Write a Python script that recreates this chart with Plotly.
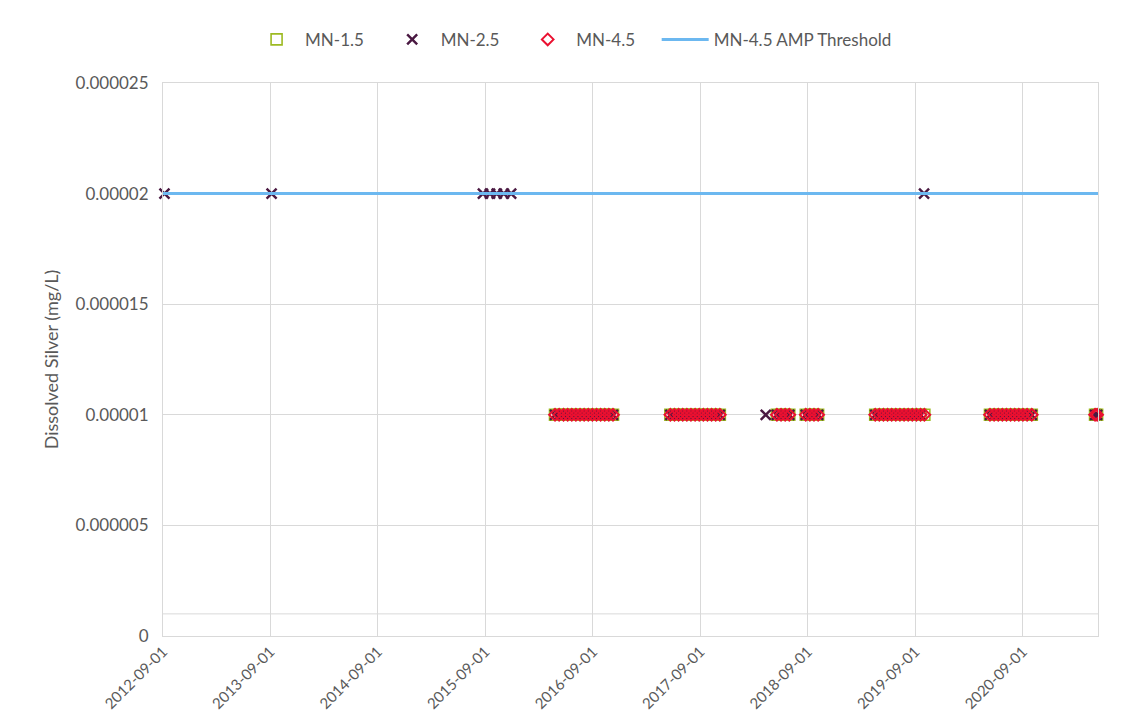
import plotly.graph_objects as go

# ---- data ----
cluster_2016 = ["2016-04-25", "2016-05-09", "2016-05-24", "2016-06-07", "2016-06-21", "2016-07-05",
                "2016-07-19", "2016-08-02", "2016-08-16", "2016-08-30", "2016-09-13", "2016-09-27",
                "2016-10-11", "2016-10-25", "2016-11-08"]
cluster_2017 = ["2017-05-22", "2017-06-05", "2017-06-19", "2017-07-03", "2017-07-17", "2017-07-31",
                "2017-08-14", "2017-08-28", "2017-09-11", "2017-09-25", "2017-10-09", "2017-10-23",
                "2017-11-06"]
cluster_2018 = ["2018-05-19", "2018-06-02", "2018-06-16", "2018-06-30",
                "2018-08-25", "2018-09-08", "2018-09-22", "2018-10-06"]
cluster_2019 = ["2019-04-18", "2019-05-02", "2019-05-16", "2019-05-30", "2019-06-13", "2019-06-27",
                "2019-07-11", "2019-07-25", "2019-08-08", "2019-08-22", "2019-09-05", "2019-09-19"]
cluster_2020 = ["2020-05-12", "2020-05-26", "2020-06-09", "2020-06-23", "2020-07-07", "2020-07-21",
                "2020-08-04", "2020-08-18", "2020-09-01", "2020-09-15", "2020-10-01"]
cluster_2021 = ["2021-05-04", "2021-05-11"]

mn15_dates = cluster_2016 + cluster_2017 + cluster_2018 + cluster_2019 + ["2019-10-02"] + cluster_2020 + cluster_2021
mn15_values = [0.00001] * len(mn15_dates)

mn25_high_dates = ["2012-09-06", "2013-09-05", "2015-08-24", "2015-09-17", "2015-10-10",
                   "2015-11-03", "2015-11-28", "2019-10-01"]
mn25_low_dates = cluster_2016 + cluster_2017 + ["2018-04-11"] + cluster_2018 + cluster_2019 + cluster_2020 + cluster_2021
mn25_dates = mn25_high_dates + mn25_low_dates
mn25_values = [0.00002] * len(mn25_high_dates) + [0.00001] * len(mn25_low_dates)

mn45_dates = cluster_2016 + cluster_2017 + cluster_2018 + cluster_2019 + ["2019-10-02"] + cluster_2020 + cluster_2021
mn45_values = [0.00001] * len(mn45_dates)

threshold_dates = ["2012-09-01", "2021-05-14"]
threshold_values = [0.00002, 0.00002]

x_ticks = ["2012-09-01", "2013-09-01", "2014-09-01", "2015-09-01", "2016-09-01",
           "2017-09-01", "2018-09-01", "2019-09-01", "2020-09-01"]
y_ticks = [0, 0.000005, 0.00001, 0.000015, 0.00002, 0.000025]
y_tick_labels = ["0", "0.000005", "0.00001", "0.000015", "0.00002", "0.000025"]

FONT = "Lato"
GRID = "#D9D9D9"
TXT = "#595959"

fig = go.Figure()
fig.add_trace(go.Scatter(
    x=mn15_dates, y=mn15_values, mode="markers", name="MN-1.5", cliponaxis=False, legend="legend",
    marker=dict(symbol="square-open", size=11, color="#9DBA22", line=dict(width=1.6))))
fig.add_trace(go.Scatter(
    x=mn25_dates, y=mn25_values, mode="markers", name="MN-2.5", cliponaxis=False, legend="legend2",
    marker=dict(symbol="x-thin-open", size=10, color="#4A1942", line=dict(width=2.4, color="#4A1942"))))
fig.add_trace(go.Scatter(
    x=mn45_dates, y=mn45_values, mode="markers", name="MN-4.5", cliponaxis=False, legend="legend3",
    marker=dict(symbol="diamond-open", size=9, color="#EA1030", line=dict(width=2.0))))
fig.add_trace(go.Scatter(
    x=threshold_dates, y=threshold_values, mode="lines", name="MN-4.5 AMP Threshold", legend="legend4",
    line=dict(color="#6CB8F0", width=3)))

fig.add_shape(type="line", xref="paper", yref="y", x0=0, x1=1, y0=0.000001, y1=0.000001,
              line=dict(color=GRID, width=1), layer="below")


def leg(xpos):
    return dict(orientation="h", x=xpos, xanchor="left", y=1.078, yanchor="middle",
                font=dict(size=17, color=TXT, family=FONT), itemwidth=47, bgcolor="rgba(0,0,0,0)")


fig.update_layout(
    width=1115, height=711,
    margin=dict(l=155, r=25, t=75, b=83),
    paper_bgcolor="white", plot_bgcolor="white",
    font=dict(family=FONT, color=TXT, size=17),
    showlegend=True,
    legend=leg(0.091), legend2=leg(0.236), legend3=leg(0.381), legend4=leg(0.528),
    xaxis=dict(type="date", range=["2012-09-01", "2021-05-14"],
               tickvals=x_ticks, ticktext=x_ticks, tickangle=-45,
               showgrid=True, gridcolor=GRID, gridwidth=1, zeroline=False,
               showline=True, linecolor=GRID, mirror=True,
               tickfont=dict(size=15, color=TXT), ticks="", automargin=False),
    yaxis=dict(range=[0, 0.000025], tickvals=y_ticks, ticktext=y_tick_labels,
               showgrid=True, gridcolor=GRID, gridwidth=1, zeroline=False,
               showline=True, linecolor=GRID, mirror=True, ticklabelstandoff=10,
               tickfont=dict(size=17, color=TXT), ticks="", automargin=False,
               title=dict(text="Dissolved Silver (mg/L)", font=dict(size=18, color=TXT), standoff=12)),
)

fig.write_html("out.html")
